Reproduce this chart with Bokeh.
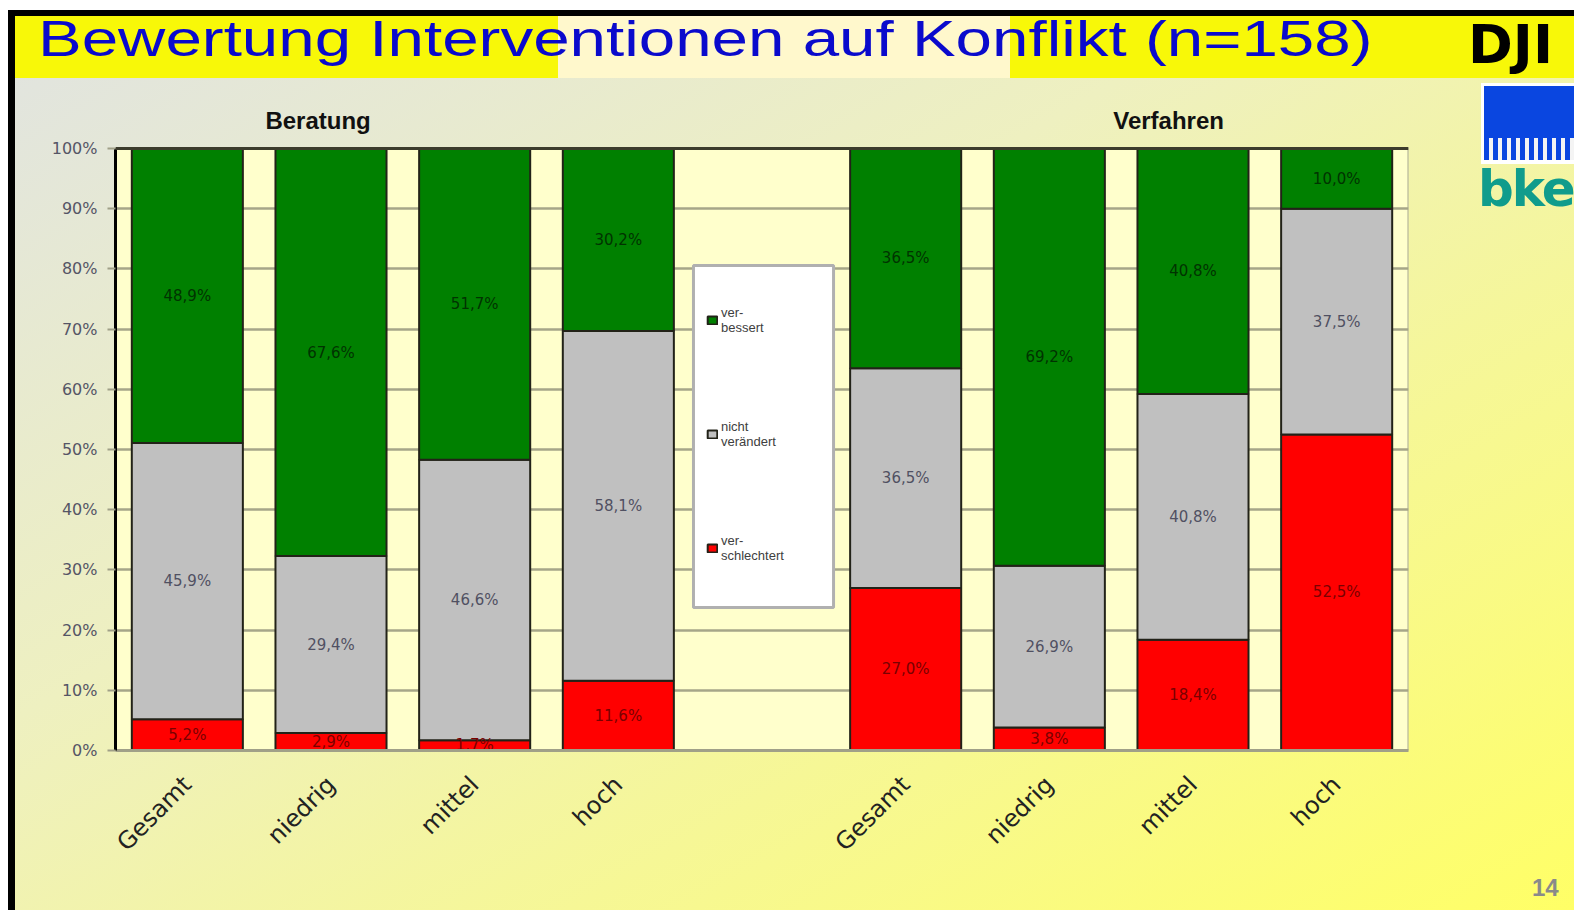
import math
from bokeh.plotting import figure
from bokeh.models import (ColumnDataSource, FixedTicker, PrintfTickFormatter, Range1d,
                          Legend, LegendItem, Span, Div)
from bokeh.layouts import column, row
from bokeh.core.properties import value
from bokeh.embed import file_html
from bokeh.resources import INLINE

# ---------------- data ----------------
title = "Bewertung Interventionen auf Konflikt (n=158)"
groups = ["Beratung", "Verfahren"]
categories = ["Gesamt", "niedrig", "mittel", "hoch"]
series_keys = ["verschlechtert", "nicht_veraendert", "verbessert"]
legend_labels = {"verbessert": "ver-\nbessert",
                 "nicht_veraendert": "nicht\nverändert",
                 "verschlechtert": "ver-\nschlechtert"}
verschlechtert = [5.2, 2.9, 1.7, 11.6, 27.0, 3.8, 18.4, 52.5]
nicht_veraendert = [45.9, 29.4, 46.6, 58.1, 36.5, 26.9, 40.8, 37.5]
verbessert = [48.9, 67.6, 51.7, 30.2, 36.5, 69.2, 40.8, 10.0]
y_ticks = list(range(0, 101, 10))
page_number = "14"

# ---------------- styling ----------------
fill_colors = {"verschlechtert": "#FF0000", "nicht_veraendert": "#C0C0C0", "verbessert": "#008000"}
label_colors = {"verschlechtert": "#7A0000", "nicht_veraendert": "#505062", "verbessert": "#003300"}

n_cat = len(categories)
n_slots = len(groups) * n_cat + len(groups) - 1
xs, x_names = [], []
for gi, g in enumerate(groups):
    for ci, c in enumerate(categories):
        xs.append(gi * (n_cat + 1) + ci + 0.5)
        x_names.append(c)

values = {"verschlechtert": verschlechtert, "nicht_veraendert": nicht_veraendert, "verbessert": verbessert}
src = ColumnDataSource(dict(x=xs, **values))

TOTAL_W, TOTAL_H, BAND_H = 1574, 910, 78
FIG_W = 1412
px_per_pct = 6.02
frame_h = 672
p = figure(width=FIG_W, height=TOTAL_H - BAND_H, x_range=Range1d(0, n_slots),
           y_range=Range1d(0, frame_h / px_per_pct),
           output_backend="svg", toolbar_location=None,
           min_border_left=115, min_border_right=FIG_W - 115 - 1293, min_border_top=0, min_border_bottom=160,
           background_fill_color=None, border_fill_color=None, outline_line_color=None, margin=0)

# plot area background
p.quad(left=[0], right=[n_slots], bottom=[0], top=[100], fill_color="#FFFFCC",
       line_color="#A8A890", line_width=2, level="image")

# grid
p.xgrid.visible = False
p.ygrid.grid_line_color = "#A6A688"
p.ygrid.grid_line_width = 2.5
p.add_layout(Span(location=100, dimension="width", line_color="#3C3C2C", line_width=3))

# axes
p.yaxis.ticker = FixedTicker(ticks=y_ticks)
p.yaxis.formatter = PrintfTickFormatter(format="%d%%")
p.yaxis.bounds = (0, 100)
p.yaxis.axis_line_color = "black"
p.yaxis.axis_line_width = 3
p.yaxis.major_tick_out = 8
p.yaxis.major_tick_in = 0
p.yaxis.major_tick_line_color = "#A0A088"
p.yaxis.major_tick_line_width = 2
p.yaxis.minor_tick_line_color = None
p.yaxis.major_label_text_font = "DejaVu Sans"
p.yaxis.major_label_text_font_size = "16px"
p.yaxis.major_label_text_color = "#555566"
p.yaxis.major_label_standoff = 10

p.xaxis.ticker = FixedTicker(ticks=xs)
p.xaxis.major_label_overrides = {x: n for x, n in zip(xs, x_names)}
p.xaxis.major_label_orientation = math.pi / 4
p.xaxis.major_tick_line_color = None
p.xaxis.minor_tick_line_color = None
p.xaxis.axis_line_color = "#A0A088"
p.xaxis.axis_line_width = 3
p.xaxis.major_label_text_font = "DejaVu Sans"
p.xaxis.major_label_text_font_size = "24px"
p.xaxis.major_label_text_color = "#222222"
p.xaxis.major_label_standoff = 24

# bars
renderers = p.vbar_stack(series_keys, x="x", width=0.773, source=src,
                         fill_color=[fill_colors[k] for k in series_keys],
                         line_color="#222218", line_width=2)

# segment labels
lx, ly, lt, lc = [], [], [], []
for i, x in enumerate(xs):
    base = 0.0
    for k in series_keys:
        v = values[k][i]
        lx.append(x)
        ly.append(base + v / 2)
        lt.append(f"{v:.1f}".replace(".", ",") + "%")
        lc.append(label_colors[k])
        base += v
p.text(x=lx, y=ly, text=lt, text_color=lc, text_align="center", text_baseline="middle",
       text_font=value("DejaVu Sans"), text_font_size="15px")

# group titles
p.text(x=[1.41, 7.33], y=[104.7, 104.7], text=groups, text_align="center", text_baseline="middle",
       text_font=value("Liberation Sans"), text_font_size="24px", text_font_style="bold",
       text_color="#111111")

# legend box
gap = n_cat
p.quad(left=[gap + 0.023], right=[gap + 0.998], bottom=[23.75], top=[80.56],
       fill_color="white", line_color="#B0B0B0", line_width=3)

order = ["verbessert", "nicht_veraendert", "verschlechtert"]
items = [LegendItem(label=legend_labels[k], renderers=[renderers[series_keys.index(k)]]) for k in order]
legend = Legend(items=items, location=(591, 185), orientation="vertical",
                background_fill_alpha=0, border_line_alpha=0, padding=0, margin=0,
                spacing=80, glyph_width=12, glyph_height=10, label_height=34, label_standoff=3,
                label_text_font_size="13px", label_text_font="Liberation Sans",
                label_text_line_height=1.4, label_text_color="#404040")
p.add_layout(legend, "center")

# ---------------- title band ----------------
html = f"""
<div style="position:relative;width:{TOTAL_W}px;height:{BAND_H}px;overflow:hidden;">
 <div style="position:absolute;left:0;top:0;width:{TOTAL_W}px;height:10px;background:#FFFFFF"></div>
 <div style="position:absolute;left:8px;top:10px;width:{TOTAL_W - 8}px;height:6px;background:#000000"></div>
 <div style="position:absolute;left:8px;top:16px;width:7px;height:62px;background:#000000"></div>
 <div style="position:absolute;left:15px;top:16px;width:543px;height:62px;background:#F8F808"></div>
 <div style="position:absolute;left:558px;top:16px;width:452px;height:62px;background:#FFF8CC"></div>
 <div style="position:absolute;left:1010px;top:16px;width:564px;height:62px;background:#F8F808"></div>
 <div style="position:absolute;left:38px;top:14px;font-family:'Liberation Sans';font-size:50px;line-height:50px;
      color:#0A0ACC;white-space:nowrap;transform:scaleX(1.31);transform-origin:left top;">{title}</div>
 <div style="position:absolute;left:1468px;top:18px;font-family:'DejaVu Sans';font-weight:bold;font-size:54px;
      line-height:54px;color:#000000;white-space:nowrap;">DJI</div>
</div>
"""
div = Div(text=html, width=TOTAL_W, height=BAND_H, margin=0)

# ---------------- right side (logos, page number) ----------------
SIDE_W = TOTAL_W - FIG_W
SIDE_H = TOTAL_H - BAND_H
side_html = f"""
<div style="position:relative;width:{SIDE_W}px;height:{SIDE_H}px;overflow:hidden;">
 <div style="position:absolute;left:69px;top:5px;width:100px;height:81px;background:#FFFFFF"></div>
 <div style="position:absolute;left:72px;top:8px;width:100px;height:52px;background:#0A46E0"></div>
 <div style="position:absolute;left:72px;top:60px;width:100px;height:22px;
      background:repeating-linear-gradient(90deg,#0A46E0 0px,#0A46E0 5px,#F4F4F4 5px,#F4F4F4 9px);"></div>
 <div style="position:absolute;left:66px;top:84px;font-family:'DejaVu Sans';font-weight:bold;font-size:50px;
      line-height:54px;color:#109C8C;white-space:nowrap;letter-spacing:-2px;">bke</div>
 <div style="position:absolute;left:120px;top:798px;font-family:'Liberation Sans';font-weight:bold;font-size:24px;
      line-height:24px;color:#8A8A8A;white-space:nowrap;">{page_number}</div>
</div>
"""
side = Div(text=side_html, width=SIDE_W, height=SIDE_H, margin=0)

layout = column(div, row(p, side, spacing=0, margin=0), spacing=0, margin=0, styles={
    "background": "linear-gradient(90deg, #FFF 0px, #FFF 8px, #000 8px, #000 15px, transparent 15px), "
                  "linear-gradient(to bottom right, #E0E3E2 0%, #EEF0C0 40%, #FFFF66 100%)"})

open("out.html", "w").write(file_html(layout, INLINE))
